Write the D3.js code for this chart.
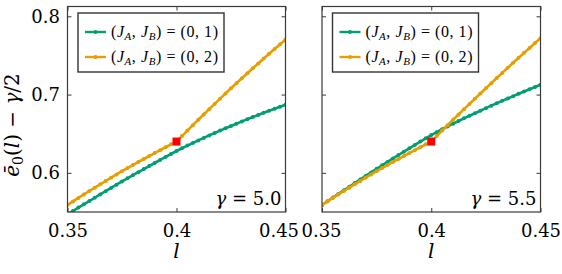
<!DOCTYPE html>
<html>
<head>
<meta charset="utf-8">
<script src="https://cdn.jsdelivr.net/npm/d3@7"></script>
<style>
  body { margin: 0; background: #fff; }
  svg { display: block; }
</style>
</head>
<body>
<div id="chart"></div>
<script>
// l values (x axis), step 0.0025
const lValues = [
    0.3500, 0.3525, 0.3550, 0.3575, 0.3600, 0.3625, 0.3650, 0.3675, 0.3700, 0.3725,
    0.3750, 0.3775, 0.3800, 0.3825, 0.3850, 0.3875, 0.3900, 0.3925, 0.3950, 0.3975,
    0.4000, 0.4025, 0.4050, 0.4075, 0.4100, 0.4125, 0.4150, 0.4175, 0.4200, 0.4225,
    0.4250, 0.4275, 0.4300, 0.4325, 0.4350, 0.4375, 0.4400, 0.4425, 0.4450, 0.4475,
    0.4500
];

// gamma = 5.0, (JA,JB) = (0,1)
const green50 = [
    0.5470, 0.5513, 0.5556, 0.5598, 0.5640, 0.5682, 0.5724, 0.5766, 0.5807, 0.5849,
    0.5890, 0.5930, 0.5970, 0.6009, 0.6048, 0.6087, 0.6126, 0.6165, 0.6203, 0.6241,
    0.6279, 0.6314, 0.6348, 0.6381, 0.6414, 0.6446, 0.6478, 0.6509, 0.6540, 0.6570,
    0.6599, 0.6628, 0.6657, 0.6685, 0.6713, 0.6740, 0.6767, 0.6793, 0.6819, 0.6845,
    0.6870
];

// gamma = 5.0, (JA,JB) = (0,2)
const orange50 = [
    0.5590, 0.5635, 0.5680, 0.5724, 0.5768, 0.5811, 0.5854, 0.5896, 0.5938, 0.5980,
    0.6021, 0.6061, 0.6100, 0.6139, 0.6177, 0.6215, 0.6253, 0.6290, 0.6327, 0.6364,
    0.6400, 0.6470, 0.6540, 0.6609, 0.6678, 0.6746, 0.6814, 0.6881, 0.6948, 0.7014,
    0.7080, 0.7145, 0.7209, 0.7273, 0.7336, 0.7398, 0.7460, 0.7521, 0.7582, 0.7642,
    0.7702
];

// gamma = 5.5, (JA,JB) = (0,1)
const green55 = [
    0.5590, 0.5637, 0.5684, 0.5731, 0.5777, 0.5823, 0.5869, 0.5915, 0.5961, 0.6006,
    0.6051, 0.6096, 0.6140, 0.6184, 0.6228, 0.6271, 0.6314, 0.6357, 0.6399, 0.6441,
    0.6482, 0.6520, 0.6557, 0.6593, 0.6628, 0.6662, 0.6696, 0.6729, 0.6762, 0.6794,
    0.6826, 0.6858, 0.6889, 0.6920, 0.6950, 0.6980, 0.7010, 0.7039, 0.7068, 0.7097,
    0.7125
];

// gamma = 5.5, (JA,JB) = (0,2)
const orange55 = [
    0.5590, 0.5635, 0.5680, 0.5724, 0.5768, 0.5811, 0.5854, 0.5896, 0.5938, 0.5980,
    0.6021, 0.6061, 0.6100, 0.6139, 0.6177, 0.6215, 0.6253, 0.6290, 0.6327, 0.6364,
    0.6400, 0.6470, 0.6540, 0.6609, 0.6678, 0.6746, 0.6814, 0.6881, 0.6948, 0.7014,
    0.7080, 0.7146, 0.7212, 0.7277, 0.7342, 0.7406, 0.7470, 0.7533, 0.7596, 0.7658,
    0.7720
];

// red marker (transition point)
const markerPoint50 = [0.4, 0.640];
const markerPoint55 = [0.4, 0.640];

const xTicks = [0.35, 0.4, 0.45];
const xTickLabels = ["0.35", "0.4", "0.45"];
const yTicks = [0.6, 0.7, 0.8];
const yTickLabels = ["0.6", "0.7", "0.8"];
const gammaLabels = ["5.0", "5.5"];
const legendLabels = ["(0, 1)", "(0, 2)"];

const green = "#009E73";
const orange = "#E69F00";
const axisColor = "#3a3a3a";

const svg = d3.select("#chart")
    .append("svg")
    .attr("width", 562)
    .attr("height", 274);

const panels = [
    { left: 67.5, right: 285.5, series: [green50, orange50], marker: markerPoint50, gamma: gammaLabels[0], yLabels: true },
    { left: 322, right: 540.5, series: [green55, orange55], marker: markerPoint55, gamma: gammaLabels[1], yLabels: false }
];
const plotTop = 6.5, plotBottom = 212;
const colors = [green, orange];

const y = d3.scaleLinear().domain([0.55, 0.8125]).range([plotBottom, plotTop]);

panels.forEach(function (p, pi) {
    const x = d3.scaleLinear().domain([0.35, 0.45]).range([p.left, p.right]);
    const g = svg.append("g");

    // clip
    g.append("clipPath")
        .attr("id", "clip" + pi)
        .append("rect")
        .attr("x", p.left)
        .attr("y", plotTop)
        .attr("width", p.right - p.left)
        .attr("height", plotBottom - plotTop);

    // axes
    const xb = g.append("g")
        .attr("transform", "translate(0," + plotBottom + ")")
        .call(d3.axisBottom(x).tickValues(xTicks).tickSizeInner(-4).tickSizeOuter(0).tickPadding(12)
            .tickFormat((d, i) => xTickLabels[i]));
    const xt = g.append("g")
        .attr("transform", "translate(0," + plotTop + ")")
        .call(d3.axisTop(x).tickValues(xTicks).tickSizeInner(-4).tickSizeOuter(0).tickFormat(""));
    const yl = g.append("g")
        .attr("transform", "translate(" + p.left + ",0)")
        .call(d3.axisLeft(y).tickValues(yTicks).tickSizeInner(-4).tickSizeOuter(0).tickPadding(7.5)
            .tickFormat((d, i) => p.yLabels ? yTickLabels[i] : ""));
    const yr = g.append("g")
        .attr("transform", "translate(" + p.right + ",0)")
        .call(d3.axisRight(y).tickValues(yTicks).tickSizeInner(-4).tickSizeOuter(0).tickFormat(""));

    [xb, xt, yl, yr].forEach(function (a) {
        a.select(".domain").remove();
        a.selectAll("line").attr("stroke", axisColor).attr("stroke-width", 1);
        a.selectAll("text")
            .attr("fill", "#000")
            .style("font-family", "'DejaVu Serif', serif")
            .style("font-size", "18px");
    });
    // the last label of the left panel sits a bit to the left, clear of the next panel
    if (pi === 0) {
        xb.selectAll(".tick text").filter(d => d === 0.45).attr("dx", -7);
    } else {
        xb.selectAll(".tick text").filter(d => d === 0.35).attr("dx", -1);
    }

    // lines
    const plot = g.append("g").attr("clip-path", "url(#clip" + pi + ")");
    p.series.forEach(function (vals, si) {
        const pts = lValues.map((l, i) => [l, vals[i]]);
        plot.append("path")
            .datum(pts)
            .attr("fill", "none")
            .attr("stroke", colors[si])
            .attr("stroke-width", 2.6)
            .attr("d", d3.line().x(d => x(d[0])).y(d => y(d[1])));
        plot.selectAll(".dot" + si)
            .data(pts)
            .enter()
            .append("circle")
            .attr("cx", d => x(d[0]))
            .attr("cy", d => y(d[1]))
            .attr("r", 2)
            .attr("fill", colors[si]);
    });

    // red square
    plot.append("rect")
        .attr("x", x(p.marker[0]) - 4)
        .attr("y", y(p.marker[1]) - 4)
        .attr("width", 8)
        .attr("height", 8)
        .attr("fill", "#ff0000");

    // frame
    g.append("rect")
        .attr("x", p.left)
        .attr("y", plotTop)
        .attr("width", p.right - p.left)
        .attr("height", plotBottom - plotTop)
        .attr("fill", "none")
        .attr("stroke", axisColor)
        .attr("stroke-width", 1.2);

    // legend
    const lx = p.left + 10.5, ly = 13;
    const leg = g.append("g");
    leg.append("rect")
        .attr("x", lx)
        .attr("y", ly)
        .attr("width", 146)
        .attr("height", 59)
        .attr("fill", "#fff")
        .attr("stroke", "#333")
        .attr("stroke-width", 1.4);
    legendLabels.forEach(function (lab, i) {
        const ry = ly + 19 + i * 25;
        leg.append("line")
            .attr("x1", lx + 7).attr("x2", lx + 28)
            .attr("y1", ry).attr("y2", ry)
            .attr("stroke", colors[i]).attr("stroke-width", 2.4);
        leg.append("circle")
            .attr("cx", lx + 17.5).attr("cy", ry).attr("r", 1.9)
            .attr("fill", colors[i]);
        const t = leg.append("text")
            .attr("x", lx + 33)
            .attr("y", ry + 5)
            .attr("textLength", 107)
            .attr("lengthAdjust", "spacing")
            .style("font-family", "'Liberation Serif', serif")
            .style("font-size", "16px")
            .attr("fill", "#000");
        t.append("tspan").text("(");
        t.append("tspan").style("font-style", "italic").text("J");
        t.append("tspan").attr("dy", 3).style("font-size", "11px").style("font-style", "italic").text("A");
        t.append("tspan").attr("dy", -3).text(", ");
        t.append("tspan").style("font-style", "italic").text("J");
        t.append("tspan").attr("dy", 3).style("font-size", "11px").style("font-style", "italic").text("B");
        t.append("tspan").attr("dy", -3).text(") = " + lab);
    });

    // gamma annotation
    const gt = g.append("text")
        .attr("x", p.right - 4)
        .attr("y", 205)
        .attr("text-anchor", "end")
        .style("font-family", "'DejaVu Serif', serif")
        .style("font-size", "18px")
        .attr("fill", "#000");
    gt.append("tspan").style("font-style", "italic").text("γ");
    gt.append("tspan").text(" = " + p.gamma);

    // x label
    g.append("text")
        .attr("x", (p.left + p.right) / 2)
        .attr("y", 258)
        .attr("text-anchor", "middle")
        .style("font-family", "'DejaVu Serif', serif")
        .style("font-size", "20px")
        .style("font-style", "italic")
        .text("l");
});

// y label
const yt = svg.append("text")
    .attr("transform", "translate(19,125) rotate(-90)")
    .attr("text-anchor", "middle")
    .style("font-family", "'DejaVu Serif', serif")
    .style("font-size", "20px")
    .attr("fill", "#000");
yt.append("tspan").style("font-style", "italic").text("e\u0304");
yt.append("tspan").attr("dy", 4).style("font-size", "14px").text("0");
yt.append("tspan").attr("dy", -4).text("(");
yt.append("tspan").style("font-style", "italic").text("l");
yt.append("tspan").text(") − ");
yt.append("tspan").style("font-style", "italic").text("γ");
yt.append("tspan").text("/2");
</script>
</body>
</html>
